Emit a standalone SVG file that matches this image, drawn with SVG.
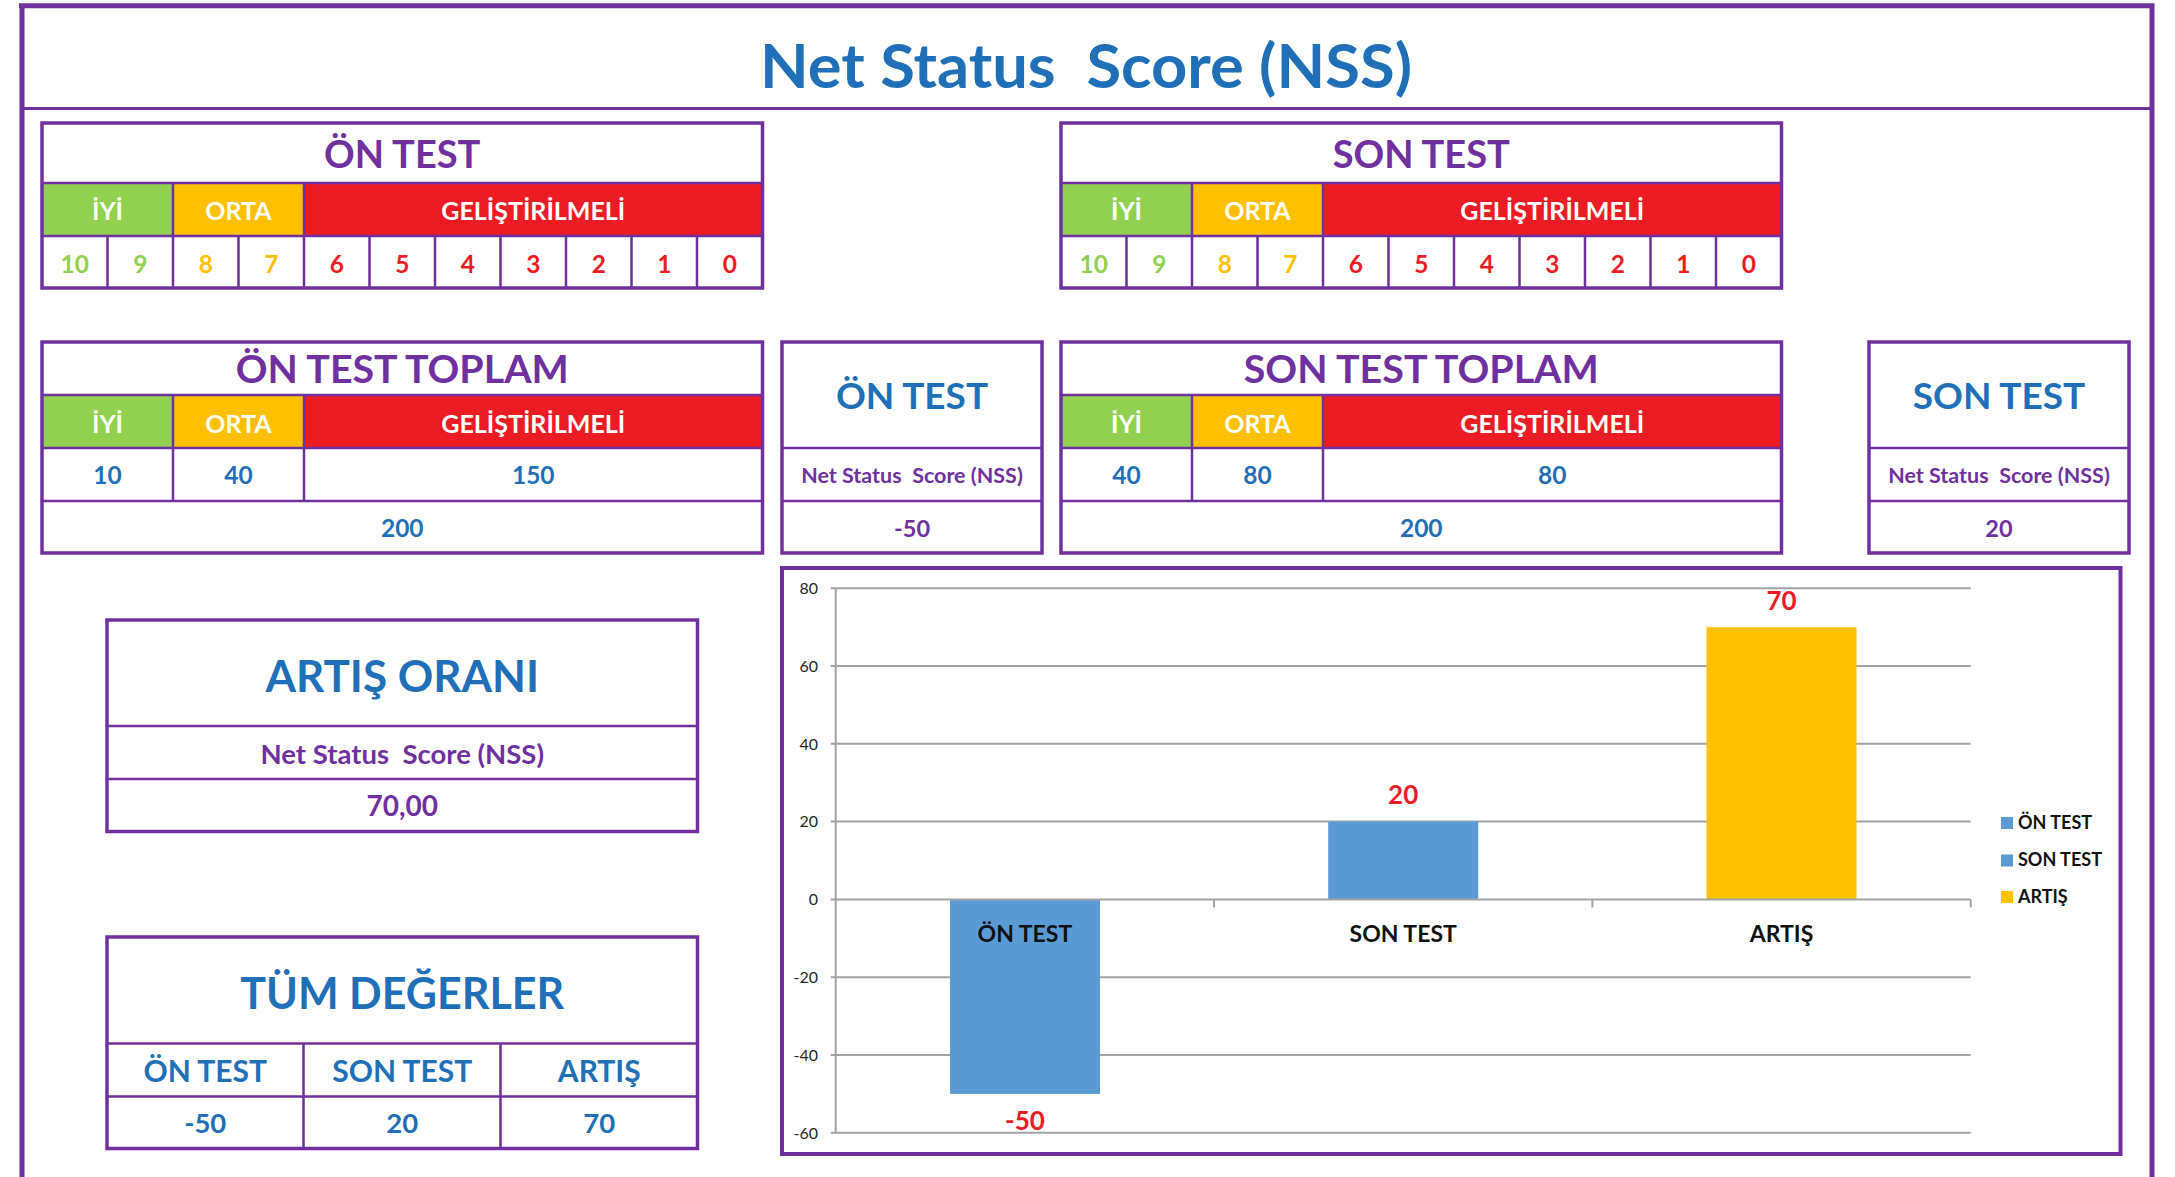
<svg xmlns="http://www.w3.org/2000/svg" width="2175" height="1177" viewBox="0 0 2175 1177">
<style>
.t{font-family:Lato,"Open Sans","Liberation Sans",sans-serif;font-weight:700;text-anchor:middle}
.pu{fill:#7030A0}.bl{fill:#1F70B8}.wh{fill:#fff}.gr{fill:#92D050}.or{fill:#FFC000}.rd{fill:#ED1C24}.bk{fill:#111}
.box{fill:none;stroke:#7030A0;stroke-width:3.5}
.ln{fill:none;stroke:#7030A0;stroke-width:2.5}
.grid{fill:none;stroke:#A3A3A3;stroke-width:2}
.h1{font-size:38px}.band{font-size:25px}.num{font-size:24.5px}
.ax{font-family:Lato,"Open Sans","Liberation Sans",sans-serif;font-size:16px;fill:#262626;text-anchor:end}
.lg{text-anchor:start}
</style>
<rect width="2175" height="1177" fill="#fff"/>

<g id="frame">
<path d="M19 5.8H2154.5M22 3.3V1177M2152 3.3V1177" fill="none" stroke="#7030A0" stroke-width="5"/>
<path d="M22 108.5H2152" fill="none" stroke="#7030A0" stroke-width="3"/>
<text class="t bl" x="1086" y="88" font-size="61" textLength="652" lengthAdjust="spacingAndGlyphs" xml:space="preserve">Net Status  Score (NSS)</text>
</g>

<g id="on-test-scale">
<rect x="42" y="183" width="131" height="53" class="gr"/>
<rect x="173" y="183" width="131" height="53" class="or"/>
<rect x="304" y="183" width="458.5" height="53" class="rd"/>
<rect class="box" x="42" y="123" width="720.5" height="165"/>
<path class="ln" d="M42 183H762.5M42 236H762.5M173 183V288M304 183V288M107.5 236V288M238.5 236V288M369.5 236V288M435 236V288M500.5 236V288M566 236V288M631.5 236V288M697 236V288"/>
<text class="t pu h1" x="402.25" y="168.3">ÖN TEST</text>
<text class="t wh band" x="107.5" y="220">İYİ</text>
<text class="t wh band" x="238.5" y="220">ORTA</text>
<text class="t wh band" x="533.25" y="220">GELİŞTİRİLMELİ</text>
<text class="t gr num" x="74.75" y="273.3">10</text>
<text class="t gr num" x="140.25" y="273.3">9</text>
<text class="t or num" x="205.75" y="273.3">8</text>
<text class="t or num" x="271.25" y="273.3">7</text>
<text class="t rd num" x="336.75" y="273.3">6</text>
<text class="t rd num" x="402.25" y="273.3">5</text>
<text class="t rd num" x="467.75" y="273.3">4</text>
<text class="t rd num" x="533.25" y="273.3">3</text>
<text class="t rd num" x="598.75" y="273.3">2</text>
<text class="t rd num" x="664.25" y="273.3">1</text>
<text class="t rd num" x="729.75" y="273.3">0</text>
</g>

<g id="son-test-scale" transform="translate(1019 0)">
<rect x="42" y="183" width="131" height="53" class="gr"/>
<rect x="173" y="183" width="131" height="53" class="or"/>
<rect x="304" y="183" width="458.5" height="53" class="rd"/>
<rect class="box" x="42" y="123" width="720.5" height="165"/>
<path class="ln" d="M42 183H762.5M42 236H762.5M173 183V288M304 183V288M107.5 236V288M238.5 236V288M369.5 236V288M435 236V288M500.5 236V288M566 236V288M631.5 236V288M697 236V288"/>
<text class="t pu h1" x="402.25" y="168.3">SON TEST</text>
<text class="t wh band" x="107.5" y="220">İYİ</text>
<text class="t wh band" x="238.5" y="220">ORTA</text>
<text class="t wh band" x="533.25" y="220">GELİŞTİRİLMELİ</text>
<text class="t gr num" x="74.75" y="273.3">10</text>
<text class="t gr num" x="140.25" y="273.3">9</text>
<text class="t or num" x="205.75" y="273.3">8</text>
<text class="t or num" x="271.25" y="273.3">7</text>
<text class="t rd num" x="336.75" y="273.3">6</text>
<text class="t rd num" x="402.25" y="273.3">5</text>
<text class="t rd num" x="467.75" y="273.3">4</text>
<text class="t rd num" x="533.25" y="273.3">3</text>
<text class="t rd num" x="598.75" y="273.3">2</text>
<text class="t rd num" x="664.25" y="273.3">1</text>
<text class="t rd num" x="729.75" y="273.3">0</text>
</g>

<g id="on-test-toplam">
<rect x="42" y="395" width="131" height="53" class="gr"/>
<rect x="173" y="395" width="131" height="53" class="or"/>
<rect x="304" y="395" width="458.5" height="53" class="rd"/>
<rect class="box" x="42" y="342" width="720.5" height="211"/>
<path class="ln" d="M42 395H762.5M42 448H762.5M42 501H762.5M173 395V501M304 395V501"/>
<text class="t pu h1" x="402.25" y="383.3" textLength="333" lengthAdjust="spacingAndGlyphs">ÖN TEST TOPLAM</text>
<text class="t wh band" x="107.5" y="433.3">İYİ</text>
<text class="t wh band" x="238.5" y="433.3">ORTA</text>
<text class="t wh band" x="533.25" y="433.3">GELİŞTİRİLMELİ</text>
<text class="t bl num" x="107.5" y="484">10</text>
<text class="t bl num" x="238.5" y="484">40</text>
<text class="t bl num" x="533.25" y="484">150</text>
<text class="t bl num" x="402.25" y="536.7">200</text>
</g>

<g id="son-test-toplam">
<rect x="1061" y="395" width="131" height="53" class="gr"/>
<rect x="1192" y="395" width="131" height="53" class="or"/>
<rect x="1323" y="395" width="458.5" height="53" class="rd"/>
<rect class="box" x="1061" y="342" width="720.5" height="211"/>
<path class="ln" d="M1061 395H1781.5M1061 448H1781.5M1061 501H1781.5M1192 395V501M1323 395V501"/>
<text class="t pu h1" x="1421.25" y="383.3" textLength="355" lengthAdjust="spacingAndGlyphs">SON TEST TOPLAM</text>
<text class="t wh band" x="1126.5" y="433.3">İYİ</text>
<text class="t wh band" x="1257.5" y="433.3">ORTA</text>
<text class="t wh band" x="1552.25" y="433.3">GELİŞTİRİLMELİ</text>
<text class="t bl num" x="1126.5" y="484">40</text>
<text class="t bl num" x="1257.5" y="484">80</text>
<text class="t bl num" x="1552.25" y="484">80</text>
<text class="t bl num" x="1421.25" y="536.7">200</text>
</g>

<g id="on-test-nss">
<rect class="box" x="782" y="342" width="260" height="211"/>
<path class="ln" d="M782 448H1042M782 501H1042"/>
<text class="t bl" x="912" y="409" font-size="37">ÖN TEST</text>
<text class="t pu" x="912" y="483" font-size="21.5" xml:space="preserve">Net Status  Score (NSS)</text>
<text class="t pu" x="912" y="536.7" font-size="23.5">-50</text>
</g>

<g id="son-test-nss">
<rect class="box" x="1869" y="342" width="260" height="211"/>
<path class="ln" d="M1869 448H2129M1869 501H2129"/>
<text class="t bl" x="1999" y="409" font-size="37">SON TEST</text>
<text class="t pu" x="1999" y="483" font-size="21.5" xml:space="preserve">Net Status  Score (NSS)</text>
<text class="t pu" x="1999" y="536.7" font-size="23.5">20</text>
</g>

<g id="artis-orani">
<rect class="box" x="107" y="620" width="590.5" height="211.5"/>
<path class="ln" d="M107 726H697.5M107 779H697.5"/>
<text class="t bl" x="402.25" y="692" font-size="44">ARTIŞ ORANI</text>
<text class="t pu" x="402.25" y="764" font-size="27.5" xml:space="preserve">Net Status  Score (NSS)</text>
<text class="t pu" x="402.25" y="816" font-size="28">70,00</text>
</g>

<g id="tum-degerler">
<rect class="box" x="107" y="937" width="590.5" height="211.5"/>
<path class="ln" d="M107 1043.5H697.5M107 1096.5H697.5M303.5 1043.5V1148.5M500.5 1043.5V1148.5"/>
<text class="t bl" x="402.25" y="1008.6" font-size="43">TÜM DEĞERLER</text>
<text class="t bl" x="205.25" y="1082" font-size="30">ÖN TEST</text>
<text class="t bl" x="402.25" y="1082" font-size="30">SON TEST</text>
<text class="t bl" x="599.25" y="1082" font-size="30">ARTIŞ</text>
<text class="t bl" x="205.25" y="1133" font-size="27.5">-50</text>
<text class="t bl" x="402.25" y="1133" font-size="27.5">20</text>
<text class="t bl" x="599.25" y="1133" font-size="27.5">70</text>
</g>

<g id="chart">
<rect x="782" y="568" width="1338.5" height="586" fill="#fff" stroke="#7030A0" stroke-width="4"/>
<path class="grid" d="M830.7 588.3H1970.7M830.7 666H1970.7M830.7 743.8H1970.7M830.7 821.6H1970.7M830.7 977.2H1970.7M830.7 1055H1970.7M830.7 1132.8H1970.7"/>
<rect x="950" y="899.4" width="150" height="194.5" fill="#5B9BD5"/>
<rect x="1328.2" y="821.6" width="150" height="77.8" fill="#5B9BD5"/>
<rect x="1706.5" y="627.2" width="150" height="272.2" fill="#FFC000"/>
<path class="grid" d="M835.7 588.3V1132.8M830.7 899.4H1970.7M1214 899.4V907.5M1592.4 899.4V907.5M1970.7 899.4V907.5"/>
<text class="ax" x="818" y="594">80</text>
<text class="ax" x="818" y="671.7">60</text>
<text class="ax" x="818" y="749.5">40</text>
<text class="ax" x="818" y="827.3">20</text>
<text class="ax" x="818" y="905.1">0</text>
<text class="ax" x="818" y="982.9">-20</text>
<text class="ax" x="818" y="1060.7">-40</text>
<text class="ax" x="818" y="1138.5">-60</text>
<text class="t bk" x="1024.9" y="942" font-size="23">ÖN TEST</text>
<text class="t bk" x="1403.2" y="942" font-size="23">SON TEST</text>
<text class="t bk" x="1781.5" y="942" font-size="23">ARTIŞ</text>
<text class="t rd" x="1781.5" y="610" font-size="26">70</text>
<text class="t rd" x="1403.2" y="804" font-size="26">20</text>
<text class="t rd" x="1024.9" y="1130" font-size="26">-50</text>
<rect x="2001" y="817" width="12" height="12" fill="#5B9BD5"/>
<rect x="2001" y="854.5" width="12" height="12" fill="#5B9BD5"/>
<rect x="2001" y="891" width="12" height="12" fill="#FFC000"/>
<text class="t bk lg" x="2018" y="829" font-size="18">ÖN TEST</text>
<text class="t bk lg" x="2018" y="866" font-size="18">SON TEST</text>
<text class="t bk lg" x="2018" y="903" font-size="18">ARTIŞ</text>
</g>
</svg>
